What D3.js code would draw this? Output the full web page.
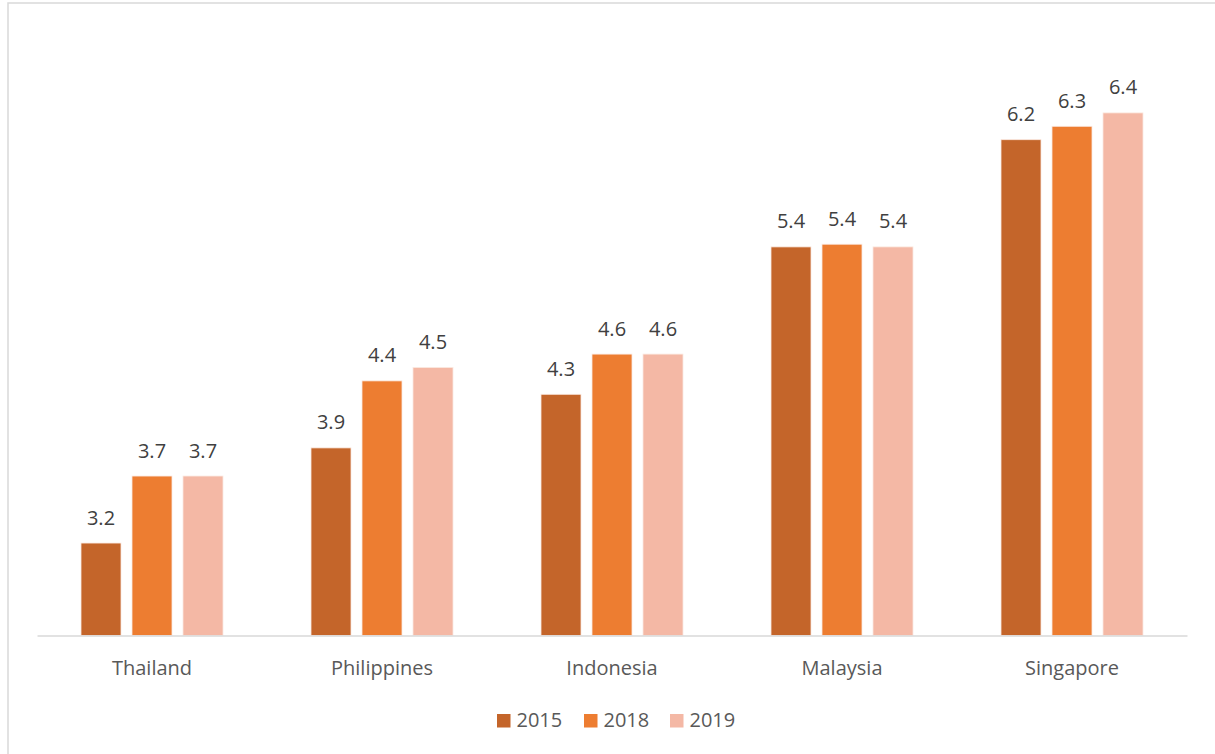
<!DOCTYPE html>
<html>
<head>
<meta charset="utf-8">
<script src="https://cdn.jsdelivr.net/npm/d3@7"></script>
<style>
  html, body { margin: 0; padding: 0; background: #fff; }
  svg { display: block; }
  text { font-family: "Open Sans", sans-serif; }
</style>
</head>
<body>
<svg id="chart" width="1215" height="754"></svg>
<script>
const categories = ["Thailand", "Philippines", "Indonesia", "Malaysia", "Singapore"];
const seriesNames = ["2015", "2018", "2019"];
const values2015 = [3.19, 3.90, 4.30, 5.40, 6.20];
const values2018 = [3.69, 4.40, 4.60, 5.42, 6.30];
const values2019 = [3.69, 4.50, 4.60, 5.40, 6.40];
const labels2015 = ["3.2", "3.9", "4.3", "5.4", "6.2"];
const labels2018 = ["3.7", "4.4", "4.6", "5.4", "6.3"];
const labels2019 = ["3.7", "4.5", "4.6", "5.4", "6.4"];
const colors = ["#C4652A", "#ED7D31", "#F4B8A5"];

const seriesValues = [values2015, values2018, values2019];
const seriesLabels = [labels2015, labels2018, labels2019];

const svg = d3.select("#chart");

// outer frame
svg.append("rect")
  .attr("x", 8).attr("y", 3)
  .attr("width", 1240).attr("height", 800)
  .attr("fill", "none").attr("stroke", "#d9d9d9").attr("stroke-width", 1.5);

const x0 = d3.scaleBand().domain(categories).range([37, 1187]).paddingInner(0).paddingOuter(0);
const groupWidth = 142;
const x1 = d3.scaleBand().domain(seriesNames).range([0, groupWidth]).paddingInner(11 / 51).paddingOuter(0);
const y = d3.scaleLinear().domain([2.5, 7]).range([635.5, 32.5]);

const groups = svg.append("g").selectAll("g")
  .data(categories)
  .join("g")
  .attr("transform", d => `translate(${x0(d) + (x0.bandwidth() - groupWidth) / 2},0)`);

seriesNames.forEach((s, si) => {
  groups.append("rect")
    .attr("x", x1(s))
    .attr("y", (d, i) => y(seriesValues[si][i]))
    .attr("width", x1.bandwidth())
    .attr("height", (d, i) => y(2.5) - y(seriesValues[si][i]))
    .attr("fill", colors[si])
    .attr("stroke", "#fbe9e0")
    .attr("stroke-width", 0.8);

  groups.append("text")
    .attr("x", x1(s) + x1.bandwidth() / 2)
    .attr("y", (d, i) => y(seriesValues[si][i]) - 18.5)
    .attr("text-anchor", "middle")
    .attr("font-size", 20)
    .attr("fill", "#404040")
    .text((d, i) => seriesLabels[si][i]);
});

// baseline axis
const xAxis = d3.axisBottom(x0).tickSize(0).tickPadding(0);
const axisG = svg.append("g").attr("transform", "translate(0,635.5)").call(xAxis);
axisG.select(".domain").attr("stroke", "#d9d9d9").attr("stroke-width", 1.3);
axisG.selectAll("text")
  .attr("y", 39.5)
  .attr("dy", null)
  .attr("font-size", 20)
  .attr("font-family", "Open Sans, sans-serif")
  .attr("fill", "#595959");

// legend
const legendX = [497, 584, 670];
const legend = svg.append("g");
seriesNames.forEach((s, i) => {
  legend.append("rect")
    .attr("x", legendX[i]).attr("y", 714)
    .attr("width", 13.5).attr("height", 13.5)
    .attr("fill", colors[i]);
  legend.append("text")
    .attr("x", legendX[i] + 19.5).attr("y", 726.5)
    .attr("font-size", 20)
    .attr("fill", "#595959")
    .text(s);
});
</script>
</body>
</html>
